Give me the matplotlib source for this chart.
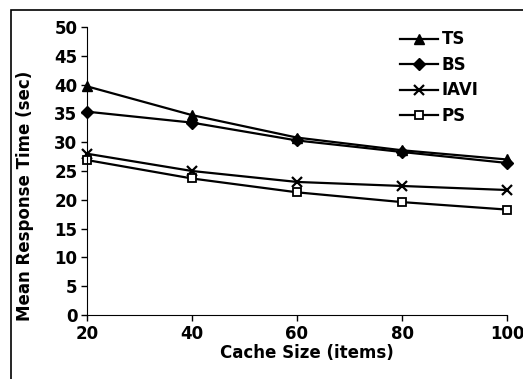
import matplotlib.pyplot as plt
from matplotlib.patches import Rectangle

## data

cacheSize = [20, 40, 60, 80, 100]
ts = [39.7, 34.7, 30.8, 28.6, 27.0]
bs = [35.3, 33.4, 30.3, 28.3, 26.4]
iavi = [28.0, 25.0, 23.1, 22.4, 21.7]
ps = [26.9, 23.7, 21.3, 19.6, 18.3]
yTicks = list(range(0, 55, 5))

plt.rcParams['font.family'] = ['DejaVu Sans']
plt.rcParams['font.weight'] = 'bold'
plt.rcParams['axes.labelweight'] = 'bold'

fig = plt.figure(figsize=(5.23, 3.79), dpi=100)
ax = fig.add_axes([87/523, 1-315/379, 420/523, 288/379])

# outer frame of the scanned figure
fig.patches.append(Rectangle((11/523, -0.1), 1.2, 1 - 10/379 + 0.1,
                             transform=fig.transFigure, fill=False,
                             edgecolor='black', linewidth=1.2))

ax.plot(cacheSize, ts, 'k-', marker='^', markersize=7.5, linewidth=1.6, label='TS', clip_on=False)
ax.plot(cacheSize, bs, 'k-', marker='D', markersize=6, linewidth=1.6, label='BS', clip_on=False)
ax.plot(cacheSize, iavi, 'k-', marker='x', markersize=7, markeredgewidth=1.6, linewidth=1.6, label='IAVI', clip_on=False)
ax.plot(cacheSize, ps, 'k-', marker='s', markersize=5.5, markerfacecolor='white',
        markeredgewidth=1.3, linewidth=1.6, label='PS', clip_on=False)

ax.set_xlim(20, 100)
ax.set_ylim(0, 50)
ax.set_xticks(cacheSize)
ax.set_yticks(yTicks)
ax.spines['top'].set_visible(False)
ax.spines['right'].set_visible(False)
ax.tick_params(direction='out', length=4, width=1, labelsize=12, pad=3)
ax.set_xlabel('Cache Size (items)', fontsize=12)
ax.set_ylabel('Mean Response Time (sec)', fontsize=12)
ax.xaxis.set_label_coords(0.524, -0.1)
ax.yaxis.set_label_coords(-0.125, 0.413)

leg = ax.legend(loc='upper left', bbox_to_anchor=(298/420, 1.04), frameon=False,
                fontsize=12, handlelength=2.3, handletextpad=0.2, labelspacing=0.45)

plt.savefig('out.png', dpi=100)
